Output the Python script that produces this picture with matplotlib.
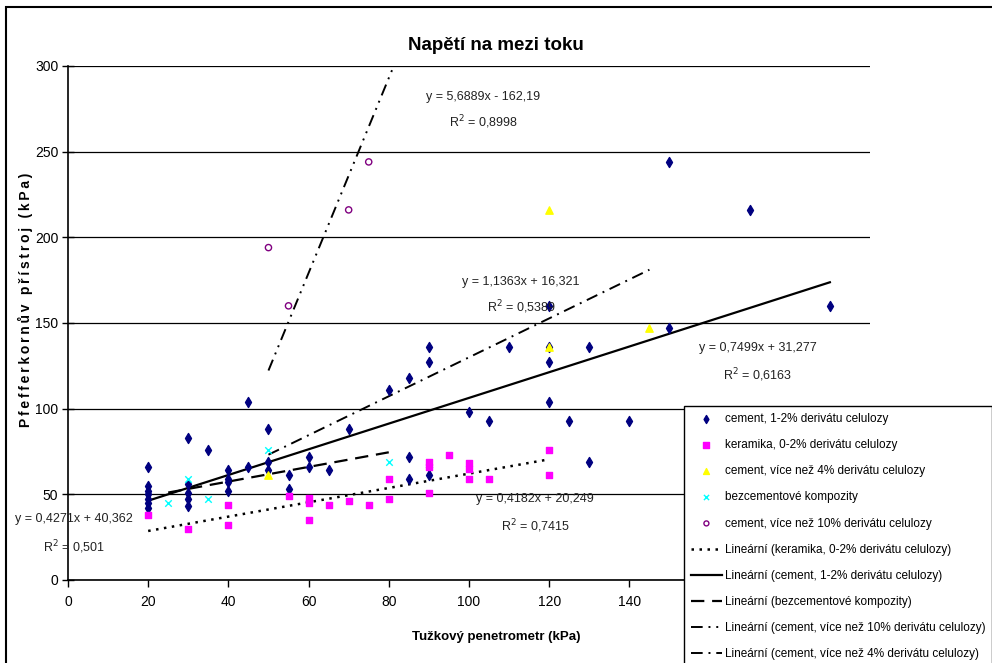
import matplotlib
matplotlib.use("Agg")
import matplotlib.pyplot as plt
from matplotlib.patches import Rectangle
import numpy as np

plt.rcParams['font.family'] = ['Liberation Sans', 'DejaVu Sans']

# cement, 1-2% derivatu celulozy
cem_x = [20, 20, 20, 20, 20, 20, 20, 30, 30, 30, 30, 30, 35, 40, 40, 40, 40,
         45, 45, 50, 50, 50, 55, 55, 60, 60, 65, 70, 80, 85, 85, 85,
         90, 90, 90, 90, 100, 105, 110, 120, 120, 120, 120, 125, 130, 130,
         140, 150, 150, 170, 190]
cem_y = [66, 55, 52, 50, 47, 45, 42, 83, 56, 51, 47, 43, 76, 64, 59, 57, 52,
         104, 66, 88, 69, 64, 61, 53, 72, 66, 64, 88, 111, 118, 72, 59,
         136, 127, 66, 61, 98, 93, 136, 160, 136, 127, 104, 93, 136, 69,
         93, 147, 244, 216, 160]

# keramika, 0-2% derivatu celulozy
ker_x = [20, 30, 40, 40, 55, 60, 60, 60, 65, 70, 75, 80, 80, 90, 90, 90,
         95, 100, 100, 100, 105, 120, 120]
ker_y = [38, 30, 44, 32, 49, 48, 45, 35, 44, 46, 44, 59, 47, 69, 66, 51,
         73, 68, 65, 59, 59, 76, 61]

# cement, vice nez 4% derivatu celulozy
c4_x = [50, 120, 120, 145]
c4_y = [61, 136, 216, 147]

# bezcementove kompozity
bez_x = [25, 30, 35, 50, 80]
bez_y = [45, 59, 47, 76, 69]

# cement, vice nez 10% derivatu celulozy
c10_x = [50, 55, 70, 75]
c10_y = [194, 160, 216, 244]

# trendline coefficients as printed on the chart
ker_k, ker_q = 0.4182, 20.249
cem_k, cem_q = 0.7499, 31.277
bez_k, bez_q = 0.4271, 40.362
c10_k, c10_q = 5.6889, -162.19
c4_k, c4_q = 1.1363, 16.321

fig = plt.figure(figsize=(9.92, 6.63), dpi=100)
ax = fig.add_axes([0.0685, 0.1252, 0.8085, 0.7753])

ax.scatter(cem_x, cem_y, marker='d', s=26, color='#000080', zorder=3,
           label='cement, 1-2% derivátu celulozy')
ax.scatter(ker_x, ker_y, marker='s', s=22, color='#FF00FF', zorder=3,
           label='keramika, 0-2% derivátu celulozy')
ax.scatter(c4_x, c4_y, marker='^', s=28, color='#FFFF00', zorder=3,
           label='cement, více než 4% derivátu celulozy')
ax.scatter(bez_x, bez_y, marker='x', s=22, color='#00FFFF', linewidths=1, zorder=3,
           label='bezcementové kompozity')
ax.scatter(c10_x, c10_y, marker='o', s=20, facecolors='none', edgecolors='#800080',
           linewidths=1, zorder=3, label='cement, více než 10% derivátu celulozy')

def trend(xs, k, q, x_end=None):
    x1 = max(xs) if x_end is None else x_end
    xx = np.array([min(xs), x1])
    return xx, k * xx + q

xx, yy = trend(ker_x, ker_k, ker_q)
ax.plot(xx, yy, color='black', lw=1.8, linestyle=(0, (1, 2.2)),
        label='Lineární (keramika, 0-2% derivátu celulozy)')
xx, yy = trend(cem_x, cem_k, cem_q)
ax.plot(xx, yy, color='black', lw=1.6, linestyle='-',
        label='Lineární (cement, 1-2% derivátu celulozy)')
xx, yy = trend(bez_x, bez_k, bez_q)
ax.plot(xx, yy, color='black', lw=1.6, linestyle=(0, (6, 3.5)),
        label='Lineární (bezcementové kompozity)')
xx, yy = trend(c10_x, c10_k, c10_q, x_end=85)
ax.plot(xx, yy, color='black', lw=1.4, linestyle=(0, (6, 3, 1, 3, 1, 3)),
        label='Lineární (cement, více než 10% derivátu celulozy)')
xx, yy = trend(c4_x, c4_k, c4_q)
ax.plot(xx, yy, color='black', lw=1.4, linestyle=(0, (6, 3, 1, 3)),
        label='Lineární (cement, více než 4% derivátu celulozy)')

ax.set_xlim(0, 200)
ax.set_ylim(0, 300)
xt = np.arange(0, 201, 20)
ax.set_xticks(xt)
# ticks from 160 on sit under the legend
ax.set_xticklabels([str(v) if v <= 140 else '' for v in xt])
ax.set_yticks(np.arange(0, 301, 50))
ax.yaxis.grid(True, color='black', lw=0.9)
ax.set_axisbelow(True)
for s in ['top', 'right']:
    ax.spines[s].set_visible(False)
ax.spines['left'].set_linewidth(1.2)
ax.spines['bottom'].set_linewidth(1.2)
ax.tick_params(axis='both', labelsize=10, length=5, width=1, direction='out', pad=6)
ax.tick_params(axis='y', direction='inout', length=8, pad=3)

txt = dict(fontsize=9, ha='center', va='center', color='#222222')
ax.text(103.5, 282, 'y = 5,6889x - 162,19', **txt)
ax.text(103.5, 267, 'R$^2$ = 0,8998', **txt)
ax.text(113, 174, 'y = 1,1363x + 16,321', **txt)
ax.text(113, 159, 'R$^2$ = 0,5389', **txt)
ax.text(172, 135.4, 'y = 0,7499x + 31,277', **txt)
ax.text(172, 119.7, 'R$^2$ = 0,6163', **txt)
ax.text(116.5, 47.3, 'y = 0,4182x + 20,249', **txt)
ax.text(116.5, 31.5, 'R$^2$ = 0,7415', **txt)
ax.text(1.5, 35.6, 'y = 0,4271x + 40,362', clip_on=False, **txt)
ax.text(1.5, 19, 'R$^2$ = 0,501', clip_on=False, **txt)

fig.text(0.5, 0.932, 'Napětí na mezi toku', ha='center', va='center',
         fontsize=13.5, fontweight='bold')
fig.text(0.5, 0.039, 'Tužkový penetrometr (kPa)', ha='center', va='center',
         fontsize=9.5, fontweight='bold')
ylab = '\u2009'.join('Pfefferkornův přístroj (kPa)')
fig.text(0.026, 0.548, ylab, ha='center', va='center', rotation=90,
         fontsize=10, fontweight='bold')

leg = ax.legend(loc='upper left', bbox_to_anchor=(0.6895, 0.388),
                bbox_transform=fig.transFigure, borderaxespad=0, fancybox=False,
                framealpha=1, edgecolor='black', fontsize=8.5, labelspacing=1.2,
                handlelength=2.6, handletextpad=0.25, borderpad=0.6, markerscale=0.8)
leg.get_frame().set_linewidth(1.0)

fig.patches.append(Rectangle((0.006, -0.01), 1.0, 1.0, transform=fig.transFigure,
                             fill=False, edgecolor='black', lw=1.5))

fig.savefig('out.png', dpi=100)
